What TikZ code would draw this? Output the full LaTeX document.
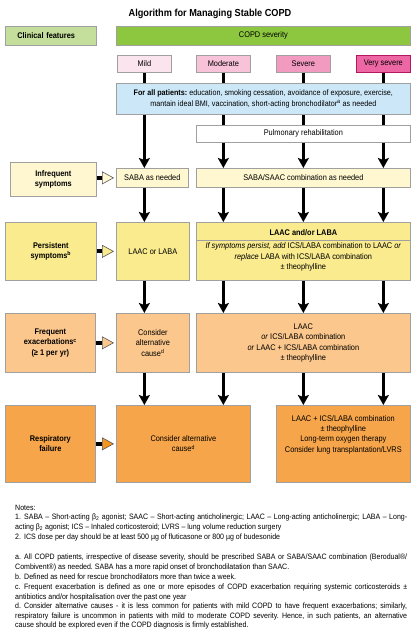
\documentclass[tikz,border=0pt]{standalone}
\usepackage{fontspec}
\setmainfont{Liberation Sans}[FakeStretch=0.9]
\usetikzlibrary{arrows.meta}
\frenchspacing
\definecolor{bgray}{HTML}{A0A0A0}
\definecolor{clinfill}{HTML}{C4DF9B}
\definecolor{sevfill}{HTML}{8DC63F}
\definecolor{mildc}{HTML}{FCE4EE}
\definecolor{modc}{HTML}{F8C3D9}
\definecolor{sevc}{HTML}{F29AC0}
\definecolor{vsevc}{HTML}{EC67A3}
\definecolor{vsevb}{HTML}{B5175F}
\definecolor{allc}{HTML}{CCE8F8}
\definecolor{yelA}{HTML}{FEF7D0}
\definecolor{yelB}{HTML}{F9EB8E}
\definecolor{orA}{HTML}{FBC78C}
\definecolor{orB}{HTML}{F7A54A}
\definecolor{orArrow}{HTML}{F7941D}
\begin{document}
\frenchspacing
\begin{tikzpicture}[x=1pt,y=-1pt,
  box/.style={draw=bgray, line width=0.7pt, inner sep=1pt, align=center, anchor=north west, font=\fontsize{8.2}{10.4}\selectfont},
  lbl/.style={font=\fontsize{8.2}{10.4}\selectfont, align=center, inner sep=0pt},
  bar/.style={line width=3.6pt},
  varr/.style={line width=3.6pt, -{Stealth[length=10pt,width=11pt,inset=2pt]}},
  harr/.style={line width=4pt, -{Triangle[length=12pt,width=13pt,line width=0.6pt,color=black!65,fill=#1]}, shorten >=2pt},
  note/.style={anchor=base west, text width=392pt, align=justify, inner sep=0pt, font=\fontsize{7.8}{9.6}\selectfont}
]
\useasboundingbox (0,0) rectangle (415,640);

\node[font=\fontsize{10.2}{12}\selectfont\bfseries, inner sep=0pt] (title) at (210,14) {Algorithm for Managing Stable COPD};

\node[box, fill=clinfill, minimum width=91pt, minimum height=19pt, text width=67pt, inner xsep=12pt, align=left, font=\fontsize{8.2}{10.4}\selectfont\bfseries] (clin) at (5,26) {Clinical features};
\node[box, fill=sevfill, minimum width=294pt, minimum height=19pt] (sev) at (116,26) {COPD severity};

\node[box, fill=mildc, minimum width=54pt, minimum height=17pt] (mild) at (117,55) {Mild};
\node[box, fill=modc, minimum width=54pt, minimum height=17pt] (mod) at (196,55) {Moderate};
\node[box, fill=sevc, minimum width=54pt, minimum height=17pt] (severe) at (276,55) {Severe};
\node[box, fill=vsevc, draw=vsevb, minimum width=54pt, minimum height=17pt] (vsev) at (356,55) {Very severe};

\node[box, fill=allc, minimum width=294pt, minimum height=31pt, font=\fontsize{8}{10.6}\selectfont] (all) at (116,83) {\textbf{For all patients:} education, smoking cessation, avoidance of exposure, exercise,\\ mantain ideal BMI, vaccination, short-acting bronchodilator\textsuperscript{a} as needed};

\node[box, fill=white, minimum width=214pt, minimum height=17pt] (rehab) at (196,125) {Pulmonary rehabilitation};

\node[box, fill=yelA, minimum width=86pt, minimum height=34pt, font=\fontsize{8.2}{10.4}\selectfont\bfseries] (infreq) at (10,162) {Infrequent\\symptoms};
\node[box, fill=yelA, minimum width=72pt, minimum height=19pt] (saba) at (116,168) {SABA as needed};
\node[box, fill=yelA, minimum width=214pt, minimum height=19pt] (sabasaac) at (196,168) {SABA/SAAC combination as needed};

\node[box, fill=yelB, minimum width=91pt, minimum height=58pt, font=\fontsize{8.2}{10.4}\selectfont\bfseries] (persist) at (5,222) {Persistent\\symptoms\textsuperscript{b}};
\node[box, fill=yelB, minimum width=73pt, minimum height=58pt] (laac) at (116,222) {LAAC or LABA};
\node[box, fill=yelB, minimum width=214pt, minimum height=58pt] (laacor) at (196,222) {};
\draw[bgray, line width=0.7pt] ([yshift=-18pt]laacor.north west) -- ([yshift=-18pt]laacor.north east);
\node[lbl, font=\fontsize{8.2}{10.4}\selectfont\bfseries] (laacorT) at ([yshift=-11pt]laacor.north) {LAAC and/or LABA};
\node[lbl] (laacorB) at ([yshift=-35pt]laacor.north) {\textit{If symptoms persist, add} ICS/LABA combination to LAAC \textit{or}\\ \textit{replace} LABA with ICS/LABA combination\\ ± theophylline};

\node[box, fill=orA, minimum width=90pt, minimum height=59pt, font=\fontsize{8.2}{10.4}\selectfont\bfseries] (freq) at (5,313) {Frequent\\exacerbations\textsuperscript{c}\\(≥ 1 per yr)};
\node[box, fill=orA, minimum width=73pt, minimum height=59pt] (cons1) at (116,313) {Consider\\alternative\\cause\textsuperscript{d}};
\node[box, fill=orA, minimum width=214pt, minimum height=59pt] (laac2) at (196,313) {LAAC\\ \textit{or} ICS/LABA combination\\ \textit{or} LAAC + ICS/LABA combination\\ ± theophylline};

\node[box, fill=orB, minimum width=90pt, minimum height=77pt, font=\fontsize{8.2}{10.4}\selectfont\bfseries] (resp) at (5,405) {Respiratory\\failure};
\node[box, fill=orB, minimum width=134pt, minimum height=77pt] (cons2) at (116,405) {Consider alternative\\cause\textsuperscript{d}};
\node[box, fill=orB, minimum width=134pt, minimum height=77pt] (laac3) at (276,405) {};
\node[lbl] (laac3T) at ([yshift=-29.5pt]laac3.north) {LAAC + ICS/LABA combination\\ ± theophylline\\ Long-term oxygen therapy\\ Consider lung transplantation/LVRS};

% severity to all patients
\foreach \c in {mild,mod,severe,vsev}{
  \draw[bar] (\c.south) -- (all.north -| \c.south);
}
% all patients row
\draw[varr] (all.south -| mild.south) -- (saba.north -| mild.south);
\foreach \c in {mod,severe,vsev}{
  \draw[bar] (all.south -| \c.south) -- (rehab.north -| \c.south);
  \draw[varr] (rehab.south -| \c.south) -- (sabasaac.north -| \c.south);
  \draw[varr] (sabasaac.south -| \c.south) -- (laacor.north -| \c.south);
  \draw[varr] (laacor.south -| \c.south) -- (laac2.north -| \c.south);
}
\draw[varr] (saba.south -| mild.south) -- (laac.north -| mild.south);
\draw[varr] (laac.south -| mild.south) -- (cons1.north -| mild.south);
\draw[varr] (cons1.south -| mild.south) -- (cons2.north -| mild.south);
\draw[varr] (laac2.south -| mod.south) -- (cons2.north -| mod.south);
\draw[varr] (laac2.south -| severe.south) -- (laac3.north -| severe.south);
\draw[varr] (laac2.south -| vsev.south) -- (laac3.north -| vsev.south);

% horizontal arrows
\draw[harr=yelA] (saba.west -| infreq.east) -- (saba.west);
\draw[harr=yelB] (persist.east) -- (laac.west);
\draw[harr=orA] (freq.east) -- (cons1.west);
\draw[harr=orArrow] (resp.east) -- (cons2.west);

% notes
\node[note] (n0) at (15,510.5) {Notes:};
\node[note] (n1) at (15,519.5) {\frenchspacing\noindent\hangindent=9pt\hangafter=1\makebox[9pt][l]{1.}SABA – Short-acting β\textsubscript{2} agonist; SAAC – Short-acting anticholinergic; LAAC – Long-acting anticholinergic; LABA – Long-\linebreak acting β\textsubscript{2} agonist; ICS – Inhaled corticosteroid; LVRS – lung volume reduction surgery};
\node[note] (n2) at (15,539.5) {\frenchspacing\noindent\hangindent=9pt\hangafter=1\makebox[9pt][l]{2.}ICS dose per day should be at least 500 µg of fluticasone or 800 µg of budesonide};
\node[note] (na) at (15,559.5) {\frenchspacing\noindent\hangindent=9pt\hangafter=1\makebox[9pt][l]{a.}All COPD patients, irrespective of disease severity, should be prescribed SABA or SABA/SAAC combination (Berodual®/\linebreak Combivent®) as needed. SABA has a more rapid onset of bronchodilatation than SAAC.};
\node[note] (nb) at (15,579.5) {\frenchspacing\noindent\hangindent=9pt\hangafter=1\makebox[9pt][l]{b.}Defined as need for rescue bronchodilators more than twice a week.};
\node[note] (nc) at (15,589.5) {\frenchspacing\noindent\hangindent=9pt\hangafter=1\makebox[9pt][l]{c.}Frequent exacerbation is defined as one or more episodes of COPD exacerbation requiring systemic corticosteroids ±\linebreak antibiotics and/or hospitalisation over the past one year};
\node[note] (nd) at (15,608.5) {\frenchspacing\noindent\hangindent=9pt\hangafter=1\makebox[9pt][l]{d.}Consider alternative causes - it is less common for patients with mild COPD to have frequent exacerbations; similarly,\linebreak respiratory failure is uncommon in patients with mild to moderate COPD severity. Hence, in such patients, an alternative\linebreak cause should be explored even if the COPD diagnosis is firmly established.};
\end{tikzpicture}
\end{document}
